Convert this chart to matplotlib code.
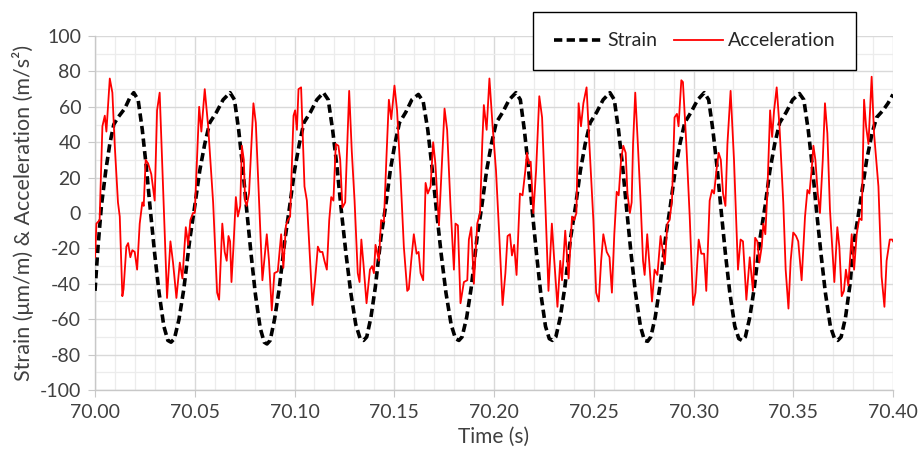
import matplotlib
matplotlib.use("Agg")
import matplotlib.pyplot as plt
from matplotlib.ticker import MultipleLocator, FormatStrFormatter

plt.rcParams['font.family'] = ['Lato', 'DejaVu Sans']
plt.rcParams['axes.unicode_minus'] = False

# strain (um/m)
strain_t = [
    70.0000, 70.0015, 70.0032, 70.0054, 70.0074, 70.0094, 70.0115, 70.0149, 70.0174, 70.0194,
    70.0216, 70.0237, 70.0257, 70.0277, 70.0299, 70.0321, 70.0345, 70.0365, 70.0381,
    70.0398, 70.0421, 70.0445, 70.0475, 70.0500, 70.0525, 70.0550, 70.0575, 70.0609, 70.0642, 70.0677,
    70.0699, 70.0720, 70.0740, 70.0760, 70.0782, 70.0804, 70.0828, 70.0848, 70.0862,
    70.0878, 70.0900, 70.0923, 70.0952, 70.0976, 70.1000, 70.1024, 70.1047, 70.1080, 70.1112, 70.1145,
    70.1169, 70.1191, 70.1213, 70.1234, 70.1258, 70.1282, 70.1307, 70.1329, 70.1346,
    70.1362, 70.1383, 70.1405, 70.1433, 70.1457, 70.1480, 70.1503, 70.1526, 70.1558, 70.1588, 70.1621,
    70.1645, 70.1668, 70.1689, 70.1711, 70.1735, 70.1759, 70.1785, 70.1807, 70.1824,
    70.1840, 70.1863, 70.1886, 70.1915, 70.1939, 70.1963, 70.1987, 70.2011, 70.2044, 70.2076, 70.2110,
    70.2132, 70.2152, 70.2172, 70.2191, 70.2213, 70.2234, 70.2258, 70.2277, 70.2293,
    70.2310, 70.2332, 70.2355, 70.2384, 70.2409, 70.2433, 70.2457, 70.2482, 70.2515, 70.2547, 70.2581,
    70.2603, 70.2624, 70.2645, 70.2665, 70.2687, 70.2709, 70.2734, 70.2754, 70.2770,
    70.2786, 70.2808, 70.2831, 70.2860, 70.2884, 70.2908, 70.2932, 70.2956, 70.2988, 70.3021, 70.3054,
    70.3076, 70.3097, 70.3118, 70.3138, 70.3160, 70.3182, 70.3207, 70.3227, 70.3243,
    70.3260, 70.3282, 70.3305, 70.3334, 70.3359, 70.3383, 70.3407, 70.3432, 70.3465, 70.3497, 70.3531,
    70.3553, 70.3575, 70.3596, 70.3616, 70.3639, 70.3661, 70.3686, 70.3707, 70.3723,
    70.3740, 70.3762, 70.3785, 70.3801, 70.3835, 70.3868, 70.3895, 70.3918, 70.3950, 70.3975, 70.4000,
]
strain = [
    -44, -19, 4, 24, 39, 50, 54, 59, 65, 68,
    64, 47, 26, 2, -23, -45, -64, -72, -73,
    -71, -60, -43, -15, 4, 24, 39, 51, 57, 64, 68,
    64, 47, 26, 2, -23, -46, -65, -73, -74,
    -72, -60, -43, -15, 4, 24, 39, 51, 57, 64, 68,
    64, 47, 26, 2, -23, -45, -63, -71, -72,
    -70, -59, -42, -14, 4, 24, 39, 51, 57, 64, 67,
    63, 47, 26, 2, -23, -45, -63, -71, -72,
    -70, -59, -42, -14, 4, 24, 39, 51, 57, 64, 68,
    64, 47, 26, 2, -23, -45, -64, -71, -72,
    -70, -59, -42, -14, 4, 24, 39, 51, 57, 64, 68,
    64, 47, 26, 2, -23, -45, -64, -72, -72.5,
    -70, -59, -42, -14, 4, 24, 39, 51, 57, 64, 68,
    64, 47, 26, 2, -23, -45, -64, -71, -72,
    -70, -59, -42, -14, 4, 24, 39, 51, 57, 64, 67.5,
    64, 47, 26, 2, -23, -45, -64, -71, -72,
    -70, -59, -40, -19, 5, 30, 45, 54, 58, 62, 67,
]

# acceleration (m/s2)
accel_t = [
    70.0000, 70.0007, 70.0023, 70.0037, 70.0049, 70.0057, 70.0074, 70.0087, 70.0099, 70.0115,
    70.0124, 70.0137, 70.0143, 70.0157, 70.0166, 70.0177, 70.0187, 70.0199, 70.0211, 70.0224,
    70.0237, 70.0244, 70.0254, 70.0266, 70.0282, 70.0299, 70.0311, 70.0324, 70.0341, 70.0361,
    70.0378, 70.0391, 70.0408, 70.0425, 70.0438, 70.0455, 70.0467, 70.0478, 70.0491, 70.0500,
    70.0522, 70.0533, 70.0550, 70.0567, 70.0592, 70.0612, 70.0622, 70.0638, 70.0650, 70.0660,
    70.0669, 70.0677, 70.0684, 70.0694, 70.0706, 70.0716, 70.0728, 70.0736, 70.0746, 70.0752,
    70.0760, 70.0772, 70.0794, 70.0806, 70.0819, 70.0827, 70.0839, 70.0861, 70.0872, 70.0886,
    70.0899, 70.0916, 70.0933, 70.0944, 70.0957, 70.0967, 70.0978, 70.0995, 70.1003, 70.1012,
    70.1020, 70.1033, 70.1050, 70.1062, 70.1078, 70.1090, 70.1103, 70.1117, 70.1128, 70.1140,
    70.1150, 70.1162, 70.1174, 70.1184, 70.1195, 70.1207, 70.1220, 70.1229, 70.1240, 70.1254,
    70.1274, 70.1287, 70.1301, 70.1317, 70.1326, 70.1335, 70.1345, 70.1361, 70.1378, 70.1389,
    70.1398, 70.1406, 70.1423, 70.1434, 70.1448, 70.1461, 70.1473, 70.1485, 70.1501, 70.1514,
    70.1531, 70.1548, 70.1565, 70.1573, 70.1585, 70.1598, 70.1612, 70.1622, 70.1632, 70.1645,
    70.1657, 70.1668, 70.1682, 70.1695, 70.1706, 70.1724, 70.1740, 70.1752, 70.1765, 70.1782,
    70.1799, 70.1807, 70.1819, 70.1832, 70.1849, 70.1866, 70.1874, 70.1886, 70.1899, 70.1916,
    70.1930, 70.1941, 70.1949, 70.1963, 70.1977, 70.1993, 70.2010, 70.2026, 70.2043, 70.2057,
    70.2068, 70.2080, 70.2090, 70.2101, 70.2113, 70.2130, 70.2143, 70.2157, 70.2165, 70.2174,
    70.2184, 70.2197, 70.2211, 70.2227, 70.2241, 70.2257, 70.2273, 70.2290, 70.2301, 70.2318,
    70.2332, 70.2341, 70.2357, 70.2374, 70.2391, 70.2402, 70.2413, 70.2424, 70.2436, 70.2448,
    70.2464, 70.2478, 70.2498, 70.2512, 70.2525, 70.2537, 70.2548, 70.2565, 70.2579, 70.2591,
    70.2603, 70.2615, 70.2625, 70.2637, 70.2648, 70.2660, 70.2669, 70.2681, 70.2690, 70.2697,
    70.2708, 70.2721, 70.2735, 70.2747, 70.2755, 70.2768, 70.2779, 70.2792, 70.2805, 70.2819,
    70.2835, 70.2847, 70.2856, 70.2869, 70.2880, 70.2892, 70.2905, 70.2917, 70.2925, 70.2939,
    70.2947, 70.2964, 70.2981, 70.2998, 70.3010, 70.3026, 70.3039, 70.3053, 70.3064, 70.3081,
    70.3093, 70.3103, 70.3115, 70.3126, 70.3137, 70.3148, 70.3160, 70.3170, 70.3186, 70.3203,
    70.3223, 70.3236, 70.3248, 70.3265, 70.3282, 70.3298, 70.3309, 70.3320, 70.3330, 70.3342,
    70.3350, 70.3360, 70.3370, 70.3384, 70.3394, 70.3404, 70.3417, 70.3431, 70.3450, 70.3462,
    70.3476, 70.3487, 70.3500, 70.3514, 70.3525, 70.3542, 70.3559, 70.3571, 70.3581, 70.3592,
    70.3601, 70.3611, 70.3623, 70.3634, 70.3648, 70.3659, 70.3671, 70.3684, 70.3706, 70.3721,
    70.3731, 70.3743, 70.3754, 70.3764, 70.3776, 70.3793, 70.3805, 70.3818, 70.3831, 70.3843,
    70.3855, 70.3865, 70.3877, 70.3893, 70.3905, 70.3927, 70.3943, 70.3957, 70.3968, 70.3984,
    70.3996, 70.4000,
]
accel = [
    -25, -6, -4, 49, 55, 46, 76, 68, 38, 6,
    -2, -47, -43, -19, -17, -25, -21, -22, -32, -6,
    6, 4, 30, 28, 22, 7, 58, 68, 15, -48,
    -16, -28, -48, -28, -37, -8, -18, -4, 0, 0,
    60, 46, 70, 49, 6, -45, -49, -6, -22, -27,
    -13, -16, -39, -19, 9, -2, 4, 38, 30, 7,
    4, 11, 62, 51, 15, -6, -38, -12, -27, -55,
    -34, -33, -12, -31, -7, -4, -2, 55, 58, 47,
    70, 71, 15, 7, -27, -52, -38, -19, -22, -22,
    -27, -32, -4, 9, 7, 39, 38, 30, 3, 6,
    69, 35, 7, -34, -39, -15, -28, -51, -32, -30,
    -34, -18, -27, -4, -5, 32, 64, 53, 72, 58,
    22, -19, -44, -43, -27, -12, -23, -22, -34, -38,
    17, 11, 15, 40, 28, -7, 30, 59, 47, 4,
    -32, -6, -7, -51, -39, -38, -15, -8, -40, -6,
    0, 39, 61, 47, 76, 49, 24, -12, -52, -34,
    -13, -12, -24, -18, -35, 11, 10, 24, 34, 28,
    29, 0, 24, 66, 54, 6, -44, -6, -25, -53,
    -27, -38, -10, -37, -2, -4, 0, 62, 49, 62,
    71, 39, -4, -45, -50, -27, -12, -22, -25, -45,
    -12, 12, 10, 30, 38, 34, 11, 0, 6, 39,
    68, 39, 6, -27, -35, -12, -29, -50, -32, -35,
    -13, -22, -29, -6, -4, 7, 54, 56, 49, 75,
    74, 39, -2, -52, -45, -15, -23, -23, -44, 7,
    13, 11, 24, 34, 30, 11, 4, 39, 69, 30,
    -32, -15, -16, -49, -25, -44, -14, -16, -28, -19,
    -6, -12, 11, 58, 43, 58, 71, 49, 6, -32,
    -54, -27, -11, -13, -16, -38, -2, 13, 11, 24,
    38, 30, 11, 0, 30, 62, 45, 2, -39, -8,
    -19, -47, -44, -32, -41, -12, -32, -12, -3, -4,
    64, 49, 39, 77, 45, 15, -36, -53, -27, -15,
    -15, -16,
]

fig = plt.figure(figsize=(9.19, 4.63), dpi=100)
ax = fig.add_axes([0.1034, 0.1577, 0.8683, 0.7645])

ax.plot(strain_t, strain, color='black', lw=2.6, linestyle=(0, (2.3, 1.2)),
        label='Strain', zorder=3)
ax.plot(accel_t, accel, color='#ff0000', lw=1.3, label='Acceleration', zorder=4)

ax.set_xlim(70.0, 70.4)
ax.set_ylim(-100, 100)
ax.xaxis.set_major_locator(MultipleLocator(0.05))
ax.xaxis.set_minor_locator(MultipleLocator(0.01))
ax.yaxis.set_major_locator(MultipleLocator(20))
ax.yaxis.set_minor_locator(MultipleLocator(10))
ax.xaxis.set_major_formatter(FormatStrFormatter('%.2f'))

ax.grid(which='major', color='#d9d9d9', lw=1.0, zorder=0)
ax.grid(which='minor', color='#ececec', lw=0.9, zorder=0)
ax.set_axisbelow(True)

for s in ['top', 'right']:
    ax.spines[s].set_visible(False)
for s in ['left', 'bottom']:
    ax.spines[s].set_color('#c8c8c8')
    ax.spines[s].set_linewidth(1.0)

ax.tick_params(which='major', length=5, color='#c8c8c8', labelsize=14,
               labelcolor='#404040', pad=5)
ax.tick_params(which='minor', length=0)

ax.set_xlabel('Time (s)', fontsize=15, color='#404040', labelpad=4)
ax.set_ylabel('Strain (μm/m) & Acceleration (m/s²)', fontsize=15.5,
              color='#404040', labelpad=4)

leg = ax.legend(loc='upper right', bbox_to_anchor=(856 / 919, 1 - 12 / 463),
                bbox_transform=fig.transFigure, ncol=2, frameon=True,
                fancybox=False, fontsize=14, handlelength=2.5,
                handletextpad=0.25, columnspacing=0.9, borderpad=1.05,
                borderaxespad=0)
leg.get_frame().set_edgecolor('black')
leg.get_frame().set_linewidth(1.0)
leg.get_frame().set_alpha(1)
for t in leg.get_texts():
    t.set_color('#262626')

fig.savefig('out.png', dpi=100)
